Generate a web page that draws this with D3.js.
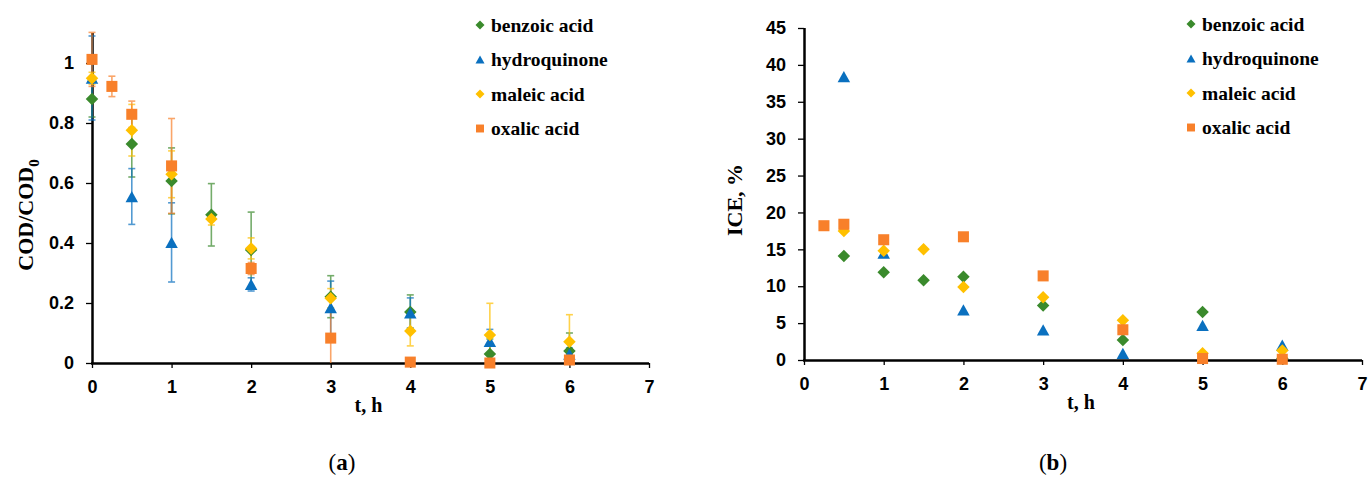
<!DOCTYPE html>
<html>
<head>
<meta charset="utf-8">
<script src="https://cdn.jsdelivr.net/npm/d3@7"></script>
<style>
  body { margin: 0; background: #fff; }
  svg { display: block; font-family: "Liberation Serif", serif; }
  .tick text { font-weight: bold; font-size: 18px; fill: #000; }
  .axis path, .axis line { stroke: #000; }
</style>
</head>
<body>
<svg id="chart" width="1368" height="477"></svg>
<script>
// Series names and colours
const seriesNames = ["benzoic acid", "hydroquinone", "maleic acid", "oxalic acid"];
const seriesColors = ["#3a8a2c", "#0a70bf", "#ffc000", "#f8802a"];
const seriesShapes = ["diamond", "triangle", "diamond", "square"];

// Panel (a): COD/COD0 values as [t, value, error]
const codBenzoic = [[0, 0.88, 0.06], [0.5, 0.73, 0.11], [1, 0.607, 0.11], [1.5, 0.494, 0.104], [2, 0.377, 0.126], [3, 0.221, 0.07], [4, 0.17, 0.057], [5, 0.03, 0.05], [6, 0.04, 0.06]];
const codHydroquinone = [[0, 0.95, 0.14], [0.5, 0.555, 0.093], [1, 0.402, 0.132], [2, 0.262, 0.022], [3, 0.185, 0.088], [4, 0.167, 0.05], [5, 0.072, 0.04], [6, 0.03, 0.02]];
const codMaleic = [[0, 0.949, 0.02], [0.5, 0.776, 0.086], [1, 0.629, 0.078], [1.5, 0.48, 0.02], [2, 0.382, 0.035], [3, 0.216, 0.032], [4, 0.107, 0.05], [5, 0.093, 0.106], [6, 0.071, 0.09]];
const codOxalic = [[0, 1.012, 0.09], [0.25, 0.922, 0.034], [0.5, 0.829, 0.044], [1, 0.657, 0.158], [2, 0.315, 0.02], [3, 0.083, 0.09], [4, 0.003, 0.003], [5, 0, 0], [6, 0.01, 0.005]];

// Panel (b): ICE, % values as [t, value]
const iceBenzoic = [[0.5, 14.1], [1, 11.9], [1.5, 10.8], [2, 11.3], [3, 7.4], [4, 2.7], [5, 6.5], [6, 0.2]];
const iceHydroquinone = [[0.5, 38.4], [1, 14.5], [2, 6.8], [3, 4.1], [4, 0.9], [5, 4.7], [6, 2.0]];
const iceMaleic = [[0.5, 17.5], [1, 14.8], [1.5, 15.0], [2, 9.9], [3, 8.5], [4, 5.4], [5, 0.9], [6, 1.3]];
const iceOxalic = [[0.25, 18.2], [0.5, 18.4], [1, 16.3], [2, 16.7], [3, 11.4], [4, 4.1], [5, 0.2], [6, 0.1]];

const xTicks = [0, 1, 2, 3, 4, 5, 6, 7];
const codTicks = [0, 0.2, 0.4, 0.6, 0.8, 1];
const iceTicks = [0, 5, 10, 15, 20, 25, 30, 35, 40, 45];

const svg = d3.select("#chart");

// Marker path for a given shape and size (diameter in px)
function marker(shape, size) {
  if (shape === "diamond") {
    return d3.symbol(d3.symbolSquare, (size * size) / 2)();
  }
  if (shape === "triangle") {
    const h = size * 0.9;
    return `M0,${-h / 2}L${size / 2},${h / 2}L${-size / 2},${h / 2}Z`;
  }
  return d3.symbol(d3.symbolSquare, size * size * 0.78)();
}

function drawPanel(cfg) {
  const x = d3.scaleLinear().domain([0, 7]).range([cfg.left, cfg.right]);
  const y = d3.scaleLinear().domain(cfg.yDomain).range([cfg.bottom, cfg.top]);
  const g = svg.append("g");

  g.append("g")
    .attr("class", "axis")
    .attr("transform", `translate(0,${cfg.bottom})`)
    .call(d3.axisBottom(x).tickValues(xTicks).tickSize(5).tickPadding(12).tickFormat(d3.format("d")))
    .call((a) => a.select(".domain").attr("stroke-width", 2.5).attr("d", `M${cfg.left - 1},0.5H${cfg.right}`))
    .call((a) => a.selectAll(".tick line").attr("stroke-width", 1.3));

  g.append("g")
    .attr("class", "axis")
    .attr("transform", `translate(${cfg.left},0)`)
    .call(d3.axisLeft(y).tickValues(cfg.yTicks).tickSize(6).tickPadding(12).tickFormat(cfg.yFormat))
    .call((a) => a.select(".domain").attr("stroke-width", 2.5).attr("d", `M0.5,${cfg.top}V${cfg.bottom}`))
    .call((a) => a.selectAll(".tick line").attr("stroke-width", 1.3));

  // Error bars first, markers on top
  cfg.series.forEach((data, i) => {
    if (!cfg.errors) return;
    const eb = g.append("g")
      .attr("stroke", seriesColors[i])
      .attr("stroke-width", 1.6)
      .attr("opacity", 0.7);
    data.filter((d) => d[2] > 0.004).forEach((d) => {
      const cx = x(d[0]);
      const y0 = y(Math.max(0, d[1] - d[2]));
      const y1 = y(d[1] + d[2]);
      eb.append("line").attr("x1", cx).attr("x2", cx).attr("y1", y0).attr("y2", y1);
      if (d[1] - d[2] > 0) {
        eb.append("line").attr("x1", cx - 3.5).attr("x2", cx + 3.5).attr("y1", y0).attr("y2", y0);
      }
      eb.append("line").attr("x1", cx - 3.5).attr("x2", cx + 3.5).attr("y1", y1).attr("y2", y1);
    });
  });

  cfg.series.forEach((data, i) => {
    g.append("g")
      .attr("fill", seriesColors[i])
      .selectAll("path")
      .data(data)
      .join("path")
      .attr("d", marker(seriesShapes[i], 12.5))
      .attr("transform", (d) =>
        `translate(${x(d[0])},${y(d[1])})` + (seriesShapes[i] === "diamond" ? " rotate(45)" : ""));
  });

  // Legend
  seriesNames.forEach((name, i) => {
    const ly = cfg.legendY + i * 34.5;
    g.append("path")
      .attr("fill", seriesColors[i])
      .attr("d", marker(seriesShapes[i], 9))
      .attr("transform", `translate(${cfg.legendX},${ly})` + (seriesShapes[i] === "diamond" ? " rotate(45)" : ""));
    g.append("text")
      .attr("x", cfg.legendX + 11)
      .attr("y", ly)
      .attr("dy", "0.35em")
      .attr("font-size", 19.5)
      .attr("font-weight", "bold")
      .text(name);
  });

  // Axis titles
  g.append("text")
    .attr("x", (cfg.left + cfg.right) / 2 - 2)
    .attr("y", cfg.bottom + 49)
    .attr("text-anchor", "middle")
    .attr("font-size", 20)
    .attr("font-weight", "bold")
    .text("t, h");

  const yt = g.append("text")
    .attr("transform", `translate(${cfg.yTitleX},${cfg.yTitleY}) rotate(-90)`)
    .attr("text-anchor", "middle")
    .attr("font-size", 22)
    .attr("font-weight", "bold");
  cfg.yTitle(yt);

  const lab = g.append("text")
    .attr("x", cfg.labelX)
    .attr("y", 470)
    .attr("text-anchor", "middle")
    .attr("font-size", 23);
  lab.append("tspan").text("(");
  lab.append("tspan").attr("font-weight", "bold").text(cfg.label);
  lab.append("tspan").text(")");
}

drawPanel({
  left: 92, right: 649, top: 33, bottom: 363,
  yDomain: [0, 1.1], yTicks: codTicks, yFormat: (d) => (d === 0 || d === 1 ? d : d3.format(".1f")(d)),
  series: [codBenzoic, codHydroquinone, codMaleic, codOxalic], errors: true,
  legendX: 480, legendY: 25,
  yTitleX: 33, yTitleY: 215,
  yTitle: (t) => {
    t.append("tspan").text("COD/COD");
    t.append("tspan").attr("font-size", 15).attr("dy", 6).text("0");
  },
  label: "a", labelX: 342,
});

drawPanel({
  left: 804, right: 1362, top: 28, bottom: 360,
  yDomain: [0, 45], yTicks: iceTicks, yFormat: d3.format("d"),
  series: [iceBenzoic, iceHydroquinone, iceMaleic, iceOxalic], errors: false,
  legendX: 1191, legendY: 24,
  yTitleX: 742, yTitleY: 200,
  yTitle: (t) => t.text("ICE, %"),
  label: "b", labelX: 1053,
});
</script>
</body>
</html>
